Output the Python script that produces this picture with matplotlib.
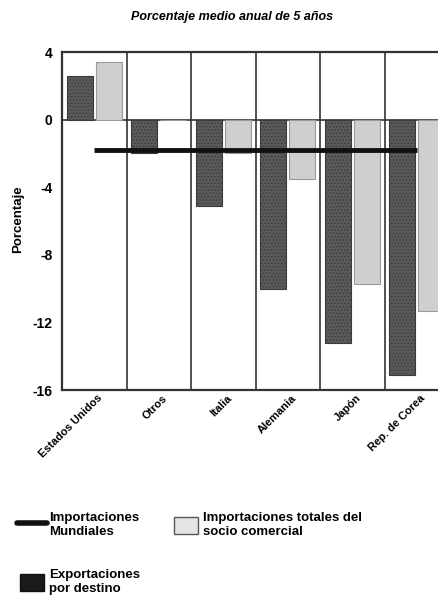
import numpy as np
import matplotlib.pyplot as plt
from matplotlib.patches import Patch, Rectangle
from matplotlib.lines import Line2D
from matplotlib.legend_handler import HandlerPatch

# Datos
paises = ["Estados Unidos", "Otros", "Italia", "Alemania", "Japón", "Rep. de Corea"]
exportaciones = np.array([2.6, -2.0, -5.1, -10.0, -13.2, -15.1])
importaciones_socio = np.array([3.4, 0.0, -2.0, -3.5, -9.7, -11.3])
importaciones_mundiales = np.array([-1.8, -1.8, -1.8, -1.8, -1.8, -1.8])

plt.rcParams['font.family'] = ['Liberation Sans', 'DejaVu Sans']
plt.rcParams['hatch.linewidth'] = 0.6
plt.rcParams['hatch.color'] = '#2a2a2a'

fig = plt.figure(figsize=(4.38, 6.04), dpi=100)
ax = fig.add_axes([0.1416, 0.3543, 0.8836, 0.5596])

x = np.arange(len(paises))
ancho = 0.4
ax.bar(x - 0.225, exportaciones, ancho, color='#5a5a5a', hatch='.....',
       edgecolor='#3a3a3a', linewidth=0.8, zorder=3)
ax.bar(x + 0.225, importaciones_socio, ancho, color='#cfcfcf',
       edgecolor='#9a9a9a', linewidth=0.8, zorder=3)
ax.plot(x, importaciones_mundiales, color='#111111', lw=3.5, zorder=4,
        solid_capstyle='butt')

# Separadores entre países y línea de cero
for b in np.arange(0.5, len(paises), 1):
    ax.axvline(b, color='#333333', lw=1.2, zorder=2)
ax.axhline(0, color='#333333', lw=1.2, zorder=2)

ax.set_xlim(-0.5, len(paises) - 0.5)
ax.set_ylim(-16, 4)
ax.set_yticks([4, 0, -4, -8, -12, -16])
ax.set_yticklabels(['4', '0', '-4', '-8', '-12', '-16'], fontsize=10, fontweight='bold')
ax.tick_params(axis='y', length=0, pad=7)
ax.tick_params(axis='x', length=0, pad=2)
ax.set_xticks(x + 0.05)
ax.set_xticklabels(paises, rotation=45, ha='right', rotation_mode='anchor',
                   fontsize=8, fontweight='bold')
for s in ['left', 'top', 'bottom', 'right']:
    ax.spines[s].set_linewidth(1.6)
    ax.spines[s].set_color('#333333')

fig.text(0.53, 0.972, "Porcentaje medio anual de 5 años", ha='center', va='center',
         fontsize=9, fontweight='bold', style='italic')
fig.text(0.041, 0.637, "Porcentaje", rotation=90, ha='center', va='center',
         fontsize=9.5, fontweight='bold')


def cuadro(legend, orig_handle, xdescent, ydescent, width, height, fontsize):
    w = 17
    return Rectangle((-xdescent + (width - w) / 2, -ydescent), w, height)


handles = [Line2D([0], [0], color='#111111', lw=4, solid_capstyle='round'),
           Patch(facecolor='#1a1a1a', edgecolor='#111111'),
           Patch(facecolor='#e4e4e4', edgecolor='#555555')]
labels = ["Importaciones\nMundiales", "Exportaciones\npor destino",
          "Importaciones totales del\nsocio comercial"]
fig.legend(handles, labels, loc='upper left', bbox_to_anchor=(0.012, 0.172), ncol=2,
           frameon=False, prop={'weight': 'bold', 'size': 9.5}, handlelength=2.3,
           handleheight=1.6, handletextpad=0.15, labelspacing=2.4, columnspacing=2.3,
           handler_map={Patch: HandlerPatch(patch_func=cuadro)})

plt.savefig('out.png', dpi=100)
